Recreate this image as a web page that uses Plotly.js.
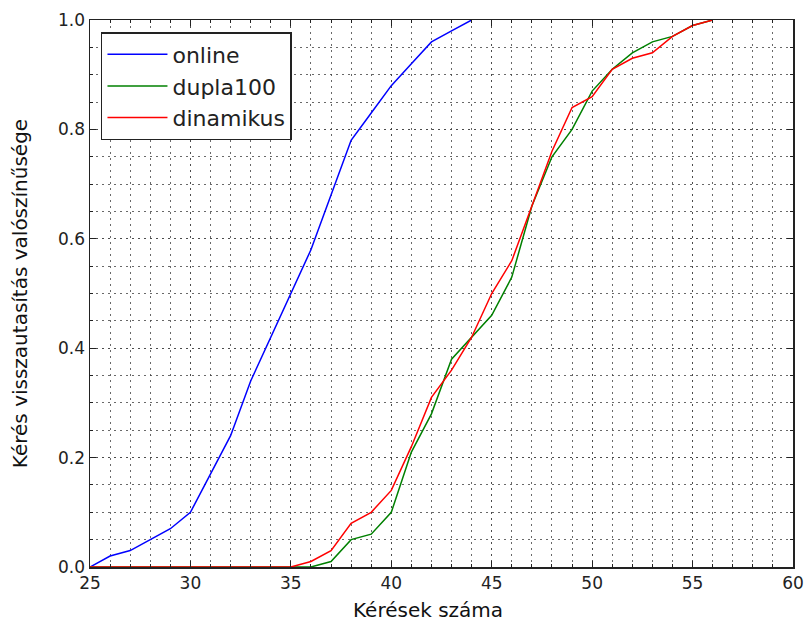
<!DOCTYPE html>
<html>
<head>
<meta charset="utf-8">
<script src="https://cdn.plot.ly/plotly-3.0.1.min.js"></script>
<style>html,body{margin:0;padding:0;background:#fff;}#chart{width:804px;height:622px;}</style>
</head>
<body>
<div id="chart"></div>
<script>
// Data
const onlineX = [25,26,27,28,29,30,31,32,33,34,35,36,37,38,39,40,41,42,43,44];
const onlineY = [0,0.02,0.03,0.05,0.07,0.10,0.17,0.24,0.34,0.42,0.50,0.58,0.68,0.78,0.83,0.88,0.92,0.96,0.98,1.0];

const duplaX = [25,26,27,28,29,30,31,32,33,34,35,36,37,38,39,40,41,42,43,44,45,46,47,48,49,50,51,52,53,54,55,56];
const duplaY = [0,0,0,0,0,0,0,0,0,0,0,0,0.01,0.05,0.06,0.10,0.21,0.28,0.38,0.42,0.46,0.53,0.66,0.75,0.80,0.87,0.91,0.94,0.96,0.97,0.99,1.0];

const dinX = [25,26,27,28,29,30,31,32,33,34,35,36,37,38,39,40,41,42,43,44,45,46,47,48,49,50,51,52,53,54,55,56];
const dinY = [0,0,0,0,0,0,0,0,0,0,0,0.01,0.03,0.08,0.10,0.14,0.22,0.31,0.36,0.42,0.50,0.56,0.66,0.76,0.84,0.86,0.91,0.93,0.94,0.97,0.99,1.0];

const seriesNames = ['online','dupla100','dinamikus'];
const xTickVals = [25,30,35,40,45,50,55,60];
const yTickVals = [0,0.2,0.4,0.6,0.8,1.0];
const xTitle = 'Kérések száma';
const yTitle = 'Kérés visszautasítás valószínűsége';

const FONT = 'DejaVu Sans, sans-serif';
const traces = [
  {x: onlineX, y: onlineY, name: seriesNames[0], legendgroup:'a', mode:'lines', line:{color:'#0000ff', width:1.5}},
  {x: duplaX, y: duplaY, name: seriesNames[1], legendgroup:'b', mode:'lines', line:{color:'#008000', width:1.5}},
  {x: dinX, y: dinY, name: seriesNames[2], legendgroup:'c', mode:'lines', line:{color:'#ff0000', width:1.5}}
];

const gridDash = '2px,4px';
const layout = {
  width: 804, height: 622,
  margin: {l: 90, r: 11, t: 20, b: 55, pad: 0},
  paper_bgcolor: '#fff', plot_bgcolor: '#fff',
  font: {family: FONT, color: '#222'},
  showlegend: true,
  legend: {
    x: 0.0156, y: 0.978, xanchor: 'left', yanchor: 'top',
    bgcolor: '#fff', bordercolor: '#222', borderwidth: 1.5,
    font: {family: FONT, size: 22, color: '#222'},
    traceorder: 'grouped', tracegroupgap: 0, itemwidth: 60
  },
  xaxis: {
    range: [25, 60], tickvals: xTickVals, ticktext: xTickVals.map(String),
    ticks: 'inside', ticklen: 6, tickcolor: '#222', tickwidth: 1,
    showline: true, linecolor: '#222', linewidth: 1.5, mirror: 'ticks',
    showgrid: true, gridcolor: '#444', gridwidth: 0.8, griddash: gridDash,
    minor: {dtick: 1, showgrid: true, gridcolor: '#444', gridwidth: 0.8, griddash: gridDash, ticks: 'inside', ticklen: 3, tickcolor: '#222'},
    zeroline: false,
    tickfont: {family: FONT, size: 17, color: '#222'},
    automargin: false
  },
  yaxis: {
    range: [0, 1], tickvals: yTickVals, ticktext: yTickVals.map(v => v.toFixed(1)),
    ticks: 'inside', ticklen: 6, tickcolor: '#222', tickwidth: 1,
    showline: true, linecolor: '#222', linewidth: 1.5, mirror: 'ticks',
    showgrid: true, gridcolor: '#444', gridwidth: 0.8, griddash: gridDash,
    minor: {dtick: 0.05, showgrid: true, gridcolor: '#444', gridwidth: 0.8, griddash: gridDash, ticks: 'inside', ticklen: 3, tickcolor: '#222'},
    zeroline: false,
    tickfont: {family: FONT, size: 17, color: '#222'},
    title: {text: yTitle, font: {family: FONT, size: 20, color: '#111'}, standoff: 25},
    automargin: false
  },
  annotations: [{
    text: xTitle, xref: 'paper', yref: 'paper', x: 0.481, y: -0.053,
    xanchor: 'center', yanchor: 'top', showarrow: false,
    font: {family: FONT, size: 20, color: '#111'}
  }]
};

Plotly.newPlot('chart', traces, layout, {displayModeBar: false, staticPlot: true});
</script>
</body>
</html>
